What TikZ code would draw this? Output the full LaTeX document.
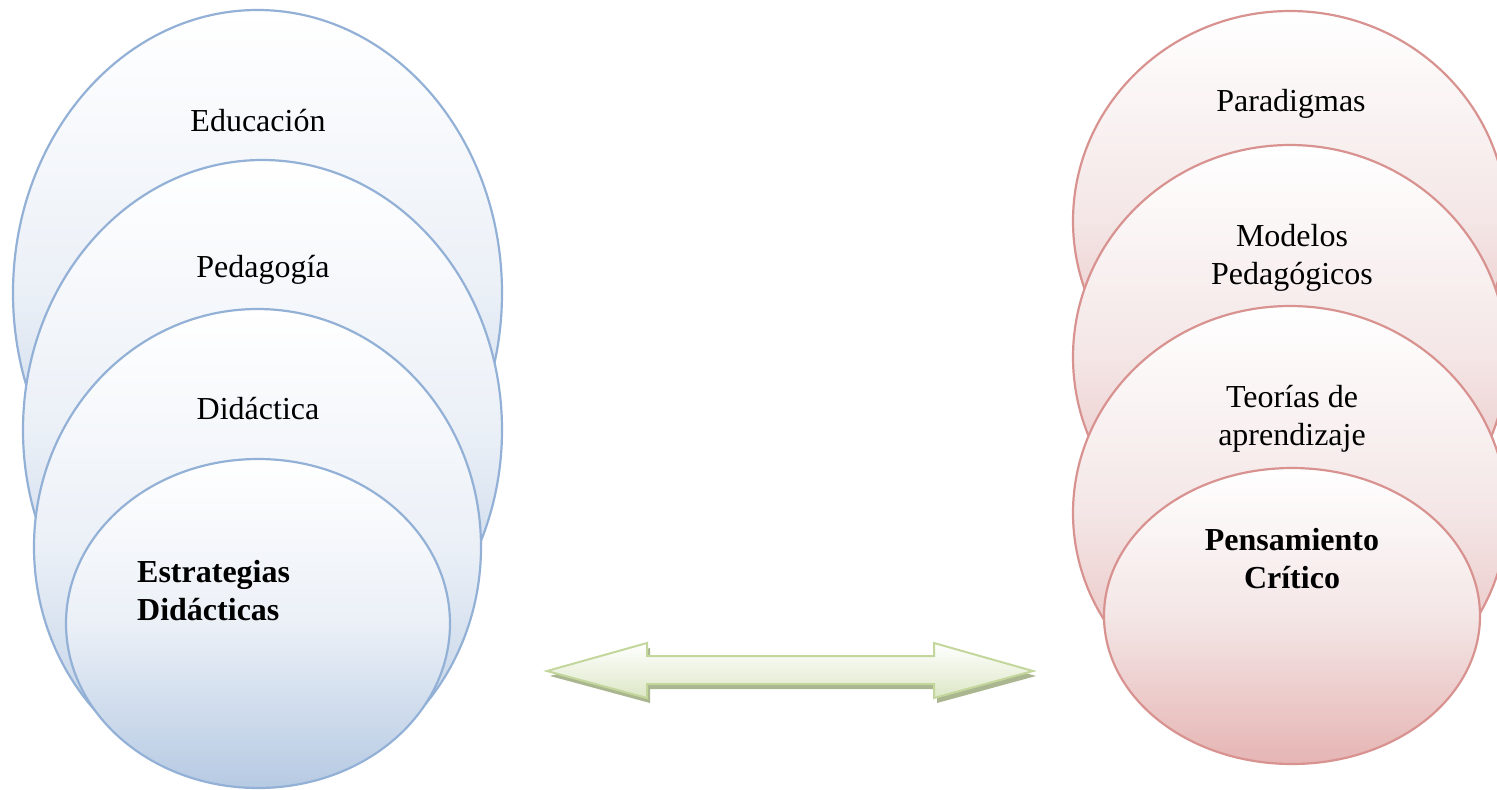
\documentclass[tikz,border=0pt]{standalone}
\usepackage{fontspec}
\setmainfont{Liberation Serif}
\usetikzlibrary{shapes.geometric}
\definecolor{blueline}{HTML}{93B1D6}
\definecolor{bluefill}{HTML}{B6CAE3}
\definecolor{bluemid}{HTML}{EBF0F7}
\definecolor{redline}{HTML}{D89391}
\definecolor{redfill}{HTML}{E5B5B4}
\definecolor{redmid}{HTML}{F4E6E6}
\definecolor{greenline}{HTML}{C3D69B}
\definecolor{greenfill}{HTML}{DCE7C6}
\definecolor{greenshadow}{HTML}{A9B690}
\begin{document}
\begin{tikzpicture}[x=1pt,y=-1pt,
  blueell/.style={ellipse, draw=blueline, line width=2.2pt, inner sep=0pt,
    top color=white, bottom color=bluefill, middle color=bluemid},
  redell/.style={ellipse, draw=redline, line width=2.2pt, inner sep=0pt,
    top color=white, bottom color=redfill, middle color=redmid},
  lbl/.style={font=\fontsize{32}{38}\selectfont, align=center, text=black, inner sep=0pt},
  blbl/.style={font=\fontsize{32}{38}\selectfont\bfseries, text=black, inner sep=0pt},
  arrowbody/.style={draw=greenline, line width=2pt, top color=white, bottom color=greenfill, line join=miter},
  arrowshadow/.style={fill=greenshadow, draw=none}
]
\useasboundingbox (0,0) rectangle (1497,790);
\clip (0,0) rectangle (1497,790);
% left stack
\node[blueell, minimum width=489pt, minimum height=566pt] (educ) at (257.5,293) {};
\node[blueell, minimum width=479pt, minimum height=540pt] (peda) at (262.5,430) {};
\node[blueell, minimum width=447pt, minimum height=476pt] (dida) at (257.5,547) {};
\node[blueell, minimum width=384pt, minimum height=329pt] (estr) at (258,623.5) {};
\node[lbl] (teduc) at (258,121) {Educación};
\node[lbl] (tpeda) at (263,270) {Pedagogía};
\node[lbl] (tdida) at (258,409) {Didáctica};
\node[blbl, align=left, anchor=west] (testr) at (137,591) {Estrategias\\Didácticas};
% right stack
\node[redell, minimum width=434pt, minimum height=420pt] (para) at (1290,221) {};
\node[redell, minimum width=434pt, minimum height=424pt] (mode) at (1290,357) {};
\node[redell, minimum width=434pt, minimum height=414pt] (teor) at (1290,513) {};
\node[redell, minimum width=376pt, minimum height=296pt] (pens) at (1292,616) {};
\node[lbl] (tpara) at (1291,104) {Paradigmas};
\node[lbl] (tmode) at (1292,258) {Modelos\\Pedagógicos};
\node[lbl] (tteor) at (1292,419) {Teorías de\\aprendizaje};
\node[blbl, align=center] (tpens) at (1292,559) {Pensamiento\\Crítico};
% double arrow
\fill[arrowshadow, shift={(3,5)}] (547,671) -- (647,643) -- (647,656) -- (934,656) -- (934,643) -- (1033,671) -- (934,698) -- (934,684) -- (647,684) -- (647,698) -- cycle;
\path[arrowbody] (547,671) -- (647,643) -- (647,656) -- (934,656) -- (934,643) -- (1033,671) -- (934,698) -- (934,684) -- (647,684) -- (647,698) -- cycle;
\end{tikzpicture}
\end{document}
